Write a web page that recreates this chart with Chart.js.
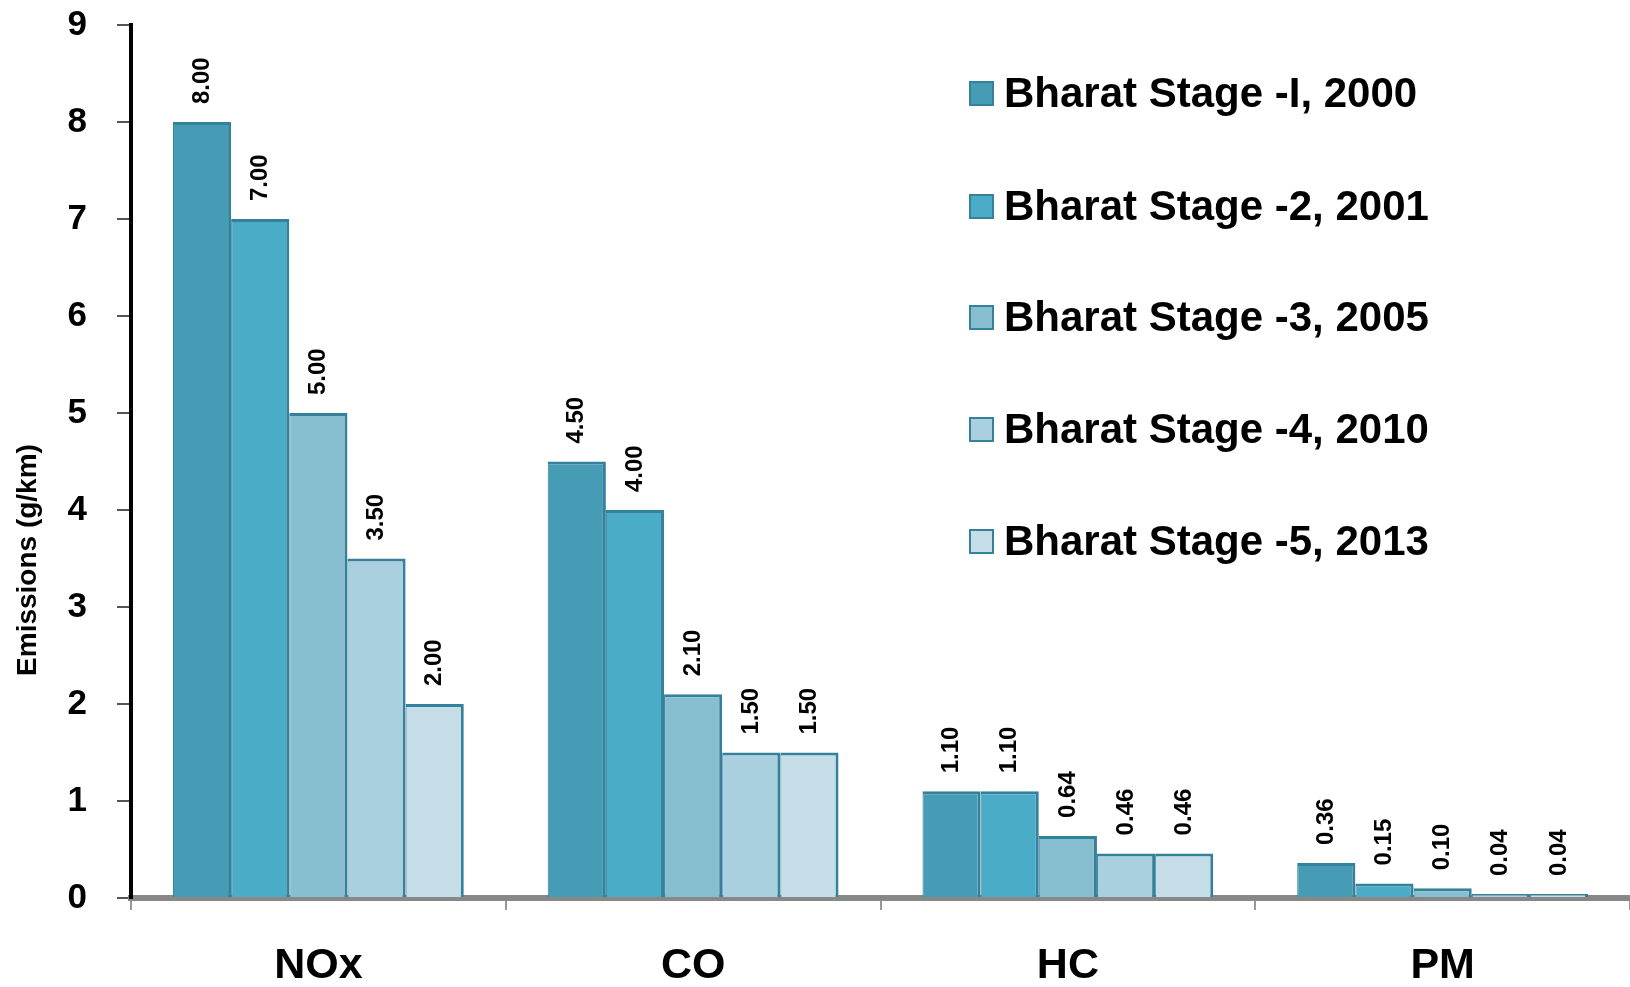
<!DOCTYPE html>
<html>
<head>
<meta charset="utf-8">
<script src="https://cdn.jsdelivr.net/npm/chart.js@4/dist/chart.umd.min.js"></script>
<style>
  body { margin: 0; background: #fff; }
  #wrap { position: relative; width: 1630px; height: 987px; }
  #legend { position: absolute; left: 969px; top: 0; font-family: "Liberation Sans", Arial, sans-serif; font-weight: bold; font-size: 42px; color: #000; }
  .row { position: absolute; left: 0; white-space: nowrap; display: flex; align-items: center; height: 50px; }
  .box { width: 21px; height: 21px; border: 2px solid #35809a; margin-right: 10px; }
</style>
</head>
<body>
<div id="wrap">
  <canvas id="myChart" width="1630" height="987"></canvas>
  <div id="legend"></div>
</div>
<script>
// categories and emission limits per stage (g/km)
const inquinanti = ['NOx', 'CO', 'HC', 'PM'];
const stadi = ['Bharat Stage -I, 2000', 'Bharat Stage -2, 2001', 'Bharat Stage -3, 2005', 'Bharat Stage -4, 2010', 'Bharat Stage -5, 2013'];
const bs1 = [8, 4.5, 1.1, 0.36];
const bs2 = [7, 4.0, 1.1, 0.15];
const bs3 = [5, 2.1, 0.64, 0.1];
const bs4 = [3.5, 1.5, 0.46, 0.04];
const bs5 = [2, 1.5, 0.46, 0.04];
const yTicks = [0, 1, 2, 3, 4, 5, 6, 7, 8, 9];

const colori = ['#459cb4', '#4aacc6', '#87bfd1', '#aacfde', '#c4dde6'];
const bordo = '#35809a';
const font = '"Liberation Sans", Arial, sans-serif';

// legenda sopra il grafico
const legend = document.getElementById('legend');
const righe = [93, 206, 317, 429, 541];
stadi.forEach(function (s, i) {
  const r = document.createElement('div');
  r.className = 'row';
  r.style.top = (righe[i] - 25) + 'px';
  r.innerHTML = '<div class="box" style="background:' + colori[i] + '"></div><span>' + s + '</span>';
  legend.appendChild(r);
});

// etichette ruotate sopra le barre + titolo asse y
const etichette = {
  id: 'etichette',
  afterDatasetsDraw(chart) {
    const ctx = chart.ctx;
    ctx.save();
    ctx.fillStyle = '#000';
    ctx.font = 'bold 24px ' + font;
    chart.data.datasets.forEach(function (ds, i) {
      chart.getDatasetMeta(i).data.forEach(function (bar, j) {
        ctx.save();
        ctx.translate(bar.x, bar.y - 18);
        ctx.rotate(-Math.PI / 2);
        ctx.textAlign = 'left';
        ctx.textBaseline = 'middle';
        ctx.fillText(ds.data[j].toFixed(2), 0, 0);
        ctx.restore();
      });
    });
    ctx.translate(28, 560);
    ctx.rotate(-Math.PI / 2);
    ctx.textAlign = 'center';
    ctx.textBaseline = 'middle';
    ctx.font = 'bold 28px ' + font;
    ctx.fillText('Emissions (g/km)', 0, 0);
    ctx.restore();
  }
};

const serie = [bs1, bs2, bs3, bs4, bs5];

new Chart(document.getElementById('myChart'), {
  type: 'bar',
  data: {
    labels: inquinanti,
    datasets: serie.map(function (d, i) {
      return {
        label: stadi[i],
        data: d,
        backgroundColor: colori[i],
        borderColor: bordo,
        borderWidth: { top: 3, right: 3, left: 1, bottom: 0 },
        borderSkipped: 'bottom'
      };
    })
  },
  options: {
    responsive: false,
    animation: false,
    layout: { padding: { top: 25, right: 0, left: 0, bottom: 0 } },
    datasets: { bar: { categoryPercentage: 0.776, barPercentage: 1.0 } },
    plugins: { legend: { display: false }, tooltip: { enabled: false } },
    scales: {
      x: {
        afterFit(scale) { scale.height = 89; },
        grid: { offset: true, drawOnChartArea: false, color: '#999', lineWidth: 2, tickLength: 12 },
        border: { color: '#888', width: 6 },
        ticks: { color: '#000', font: { family: font, weight: 'bold', size: 43 }, padding: 30 }
      },
      y: {
        min: 0,
        max: 9,
        afterFit(scale) {
          scale.width = 131;
          scale.paddingTop = 0;
          scale.paddingBottom = 0;
        },
        afterBuildTicks(scale) { scale.ticks = yTicks.map(v => ({ value: v })); },
        grid: { drawOnChartArea: false, color: '#555', lineWidth: 2, tickLength: 14 },
        border: { color: '#000', width: 4 },
        ticks: { color: '#000', font: { family: font, weight: 'bold', size: 35 }, padding: 30 }
      }
    }
  },
  plugins: [etichette]
});
</script>
</body>
</html>
